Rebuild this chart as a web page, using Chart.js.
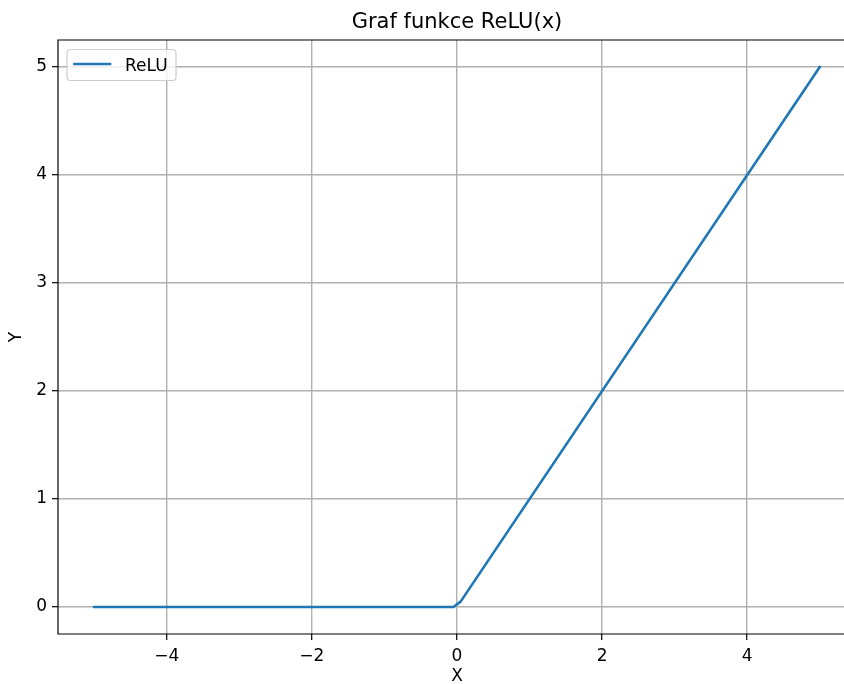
<!DOCTYPE html>
<html>
<head>
<meta charset="utf-8">
<script src="https://cdn.jsdelivr.net/npm/chart.js@4"></script>
<style>
  html, body { margin: 0; padding: 0; background: #fff; overflow: hidden; }
  #reluChart { display: block; width: 844px; height: 684px; }
</style>
</head>
<body>
<canvas id="reluChart" width="844" height="684"></canvas>
<script>
// values
const xValues = [-5, -0.05, 0.05, 5];
const yValues = [0, 0, 0.05, 5];
const xTicks = [-4, -2, 0, 2, 4];
const yTicks = [0, 1, 2, 3, 4, 5];
const seriesLabel = 'ReLU';
const titleText = 'Graf funkce ReLU(x)';
const xLabel = 'X';
const yLabel = 'Y';
// the original picture is cut off on the right, just past x = 5.33
const xMin = -5.5, xMax = 5.335;
const yMin = -0.25, yMax = 5.25;
// the full axes would span -5.5..5.5, so title and x label sit over x = 0
const axesCenter = 0;

const FONT = "'DejaVu Sans', sans-serif";
const LINE_COLOR = '#1f77b4';

function fmtTick(v){
  return v < 0 ? '\u2212' + Math.abs(v) : String(v);
}

// left, top and bottom spines (the right one is outside the picture)
const spines = {
  id: 'spines',
  afterDatasetsDraw(chart){
    const {ctx, chartArea: a} = chart;
    ctx.save();
    ctx.strokeStyle = '#000';
    ctx.lineWidth = 1.2;
    ctx.beginPath();
    ctx.moveTo(chart.width + 2, a.top);
    ctx.lineTo(a.left, a.top);
    ctx.lineTo(a.left, a.bottom);
    ctx.lineTo(chart.width + 2, a.bottom);
    ctx.stroke();
    ctx.restore();
  }
};

// title and x label centred on the (uncut) axes
const centredTexts = {
  id: 'centredTexts',
  afterDraw(chart){
    const ctx = chart.ctx;
    const cx = chart.scales.x.getPixelForValue(axesCenter);
    ctx.save();
    ctx.fillStyle = '#000';
    ctx.textAlign = 'center';
    ctx.textBaseline = 'middle';
    ctx.font = '21px ' + FONT;
    ctx.fillText(titleText, cx, 23);
    ctx.font = '17px ' + FONT;
    ctx.fillText(xLabel, cx, 677);
    ctx.restore();
  }
};

// legend box in upper left corner
const boxLegend = {
  id: 'boxLegend',
  afterDraw(chart){
    const ctx = chart.ctx;
    const ds = chart.data.datasets[0];
    const x = 67, y = 49.5, w = 109, h = 31, r = 3.5;
    ctx.save();
    ctx.beginPath();
    ctx.roundRect(x, y, w, h, r);
    ctx.fillStyle = 'rgba(255,255,255,0.8)';
    ctx.fill();
    ctx.strokeStyle = '#cccccc';
    ctx.lineWidth = 1.2;
    ctx.stroke();
    ctx.beginPath();
    ctx.moveTo(74.5, 64);
    ctx.lineTo(110, 64);
    ctx.strokeStyle = ds.borderColor;
    ctx.lineWidth = ds.borderWidth;
    ctx.lineCap = 'square';
    ctx.stroke();
    ctx.fillStyle = '#000';
    ctx.font = '17px ' + FONT;
    ctx.textBaseline = 'alphabetic';
    ctx.textAlign = 'left';
    ctx.fillText(ds.label, 125, 71);
    ctx.restore();
  }
};

const ctx = document.getElementById('reluChart').getContext('2d');
new Chart(ctx, {
  type: 'line',
  data: {
    datasets: [{
      label: seriesLabel,
      data: xValues.map((x, i) => ({x: x, y: yValues[i]})),
      borderColor: LINE_COLOR,
      borderWidth: 2.6,
      borderCapStyle: 'square',
      borderJoinStyle: 'round',
      pointRadius: 0,
      tension: 0,
      fill: false
    }]
  },
  options: {
    responsive: false,
    animation: false,
    devicePixelRatio: 1,
    layout: { padding: { top: 40, left: 0, right: 0, bottom: 0 } },
    plugins: {
      legend: { display: false },
      tooltip: { enabled: false },
      title: { display: false }
    },
    scales: {
      x: {
        type: 'linear',
        min: xMin,
        max: xMax,
        afterBuildTicks: s => { s.ticks = xTicks.map(v => ({value: v})); },
        afterFit: s => { s.height = 50; },
        grid: { color: '#b0b0b0', lineWidth: 1.4, tickColor: '#000', tickLength: 6, tickWidth: 1.2 },
        border: { display: false },
        ticks: { color: '#000', padding: 6, maxRotation: 0, font: { family: FONT, size: 17 }, callback: fmtTick },
        title: { display: false }
      },
      y: {
        min: yMin,
        max: yMax,
        afterBuildTicks: s => { s.ticks = yTicks.map(v => ({value: v})); },
        afterFit: s => { s.width = 58; },
        grid: { color: '#b0b0b0', lineWidth: 1.4, tickColor: '#000', tickLength: 6, tickWidth: 1.2 },
        border: { display: false },
        ticks: { color: '#000', padding: 5, font: { family: FONT, size: 17 }, callback: fmtTick },
        title: { display: true, text: yLabel, color: '#000', font: { family: FONT, size: 17 }, padding: { top: 6.8, bottom: 0 } }
      }
    }
  },
  plugins: [spines, centredTexts, boxLegend]
});
</script>
</body>
</html>
